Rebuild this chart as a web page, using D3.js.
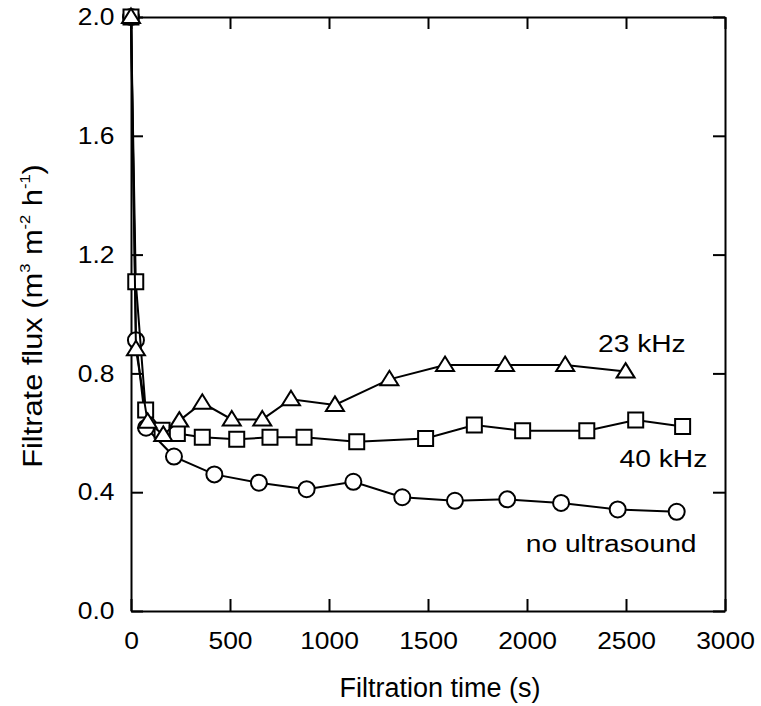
<!DOCTYPE html>
<html lang="en">
<head>
  <meta charset="UTF-8">
  <title>Filtrate flux vs filtration time</title>
  <script src="https://d3js.org/d3.v7.min.js"></script>
  <style>
    body { margin: 0; background: #fff; }
    svg { display: block; font-family: "Liberation Sans", Arial, sans-serif; }
    .tick text { font-size: 24px; fill: #000; }
    .axis-label { font-size: 27px; }
    .y-title { font-size: 28px; }
    .series-label { font-size: 24.5px; }
  </style>
</head>
<body>
  <svg width="761" height="706"></svg>
  <script>
    // filtration time (s) and flux (m3 m-2 h-1)
    const noUsTime = [0, 25, 76, 217, 421, 646, 887, 1123, 1370, 1636, 1900, 2172, 2458, 2756];
    const noUsFlux = [2.0, 0.912, 0.617, 0.52, 0.46, 0.432, 0.41, 0.435, 0.383, 0.371, 0.376, 0.364, 0.342, 0.334];

    const k40Time = [0, 24, 74, 157, 234, 360, 534, 702, 874, 1140, 1488, 1734, 1978, 2302, 2549, 2786];
    const k40Flux = [2.0, 1.109, 0.677, 0.609, 0.598, 0.585, 0.578, 0.585, 0.585, 0.57, 0.581, 0.626, 0.607, 0.607, 0.643, 0.621];

    const k23Time = [0, 25, 84, 163, 244, 360, 509, 663, 808, 1030, 1305, 1586, 1889, 2193, 2498];
    const k23Flux = [2.0, 0.881, 0.637, 0.593, 0.641, 0.701, 0.645, 0.645, 0.713, 0.694, 0.78, 0.828, 0.828, 0.828, 0.806];

    const xTicks = [0, 500, 1000, 1500, 2000, 2500, 3000];
    const yTicks = [0.0, 0.4, 0.8, 1.2, 1.6, 2.0];

    const margin = { top: 17, right: 36, bottom: 95, left: 131 };
    const width = 761;
    const height = 706;
    const tick = 12;
    const stretch = 1.1;

    const svg = d3.select("svg");

    const x = d3.scaleLinear().domain([0, 3000]).range([margin.left, width - margin.right]);
    const y = d3.scaleLinear().domain([0, 2]).range([height - margin.bottom, margin.top]);

    function styleAxis(g) {
      g.select(".domain").attr("stroke", "#000").attr("stroke-width", 2);
      g.selectAll(".tick line").attr("stroke", "#000").attr("stroke-width", 2);
    }

    // bottom axis with labels, ticks pointing inward
    svg.append("g")
      .attr("transform", `translate(0,${height - margin.bottom})`)
      .call(d3.axisBottom(x).tickValues(xTicks).tickSizeInner(-tick).tickSizeOuter(0)
        .tickPadding(21).tickFormat(d3.format("d")))
      .call(styleAxis)
      .call(g => g.selectAll(".tick text").attr("transform", `scale(${stretch},1)`));

    // top axis, ticks only
    svg.append("g")
      .attr("transform", `translate(0,${margin.top})`)
      .call(d3.axisTop(x).tickValues(xTicks).tickSizeInner(-tick).tickSizeOuter(0).tickFormat(""))
      .call(styleAxis);

    // left axis with labels
    svg.append("g")
      .attr("transform", `translate(${margin.left},0)`)
      .call(d3.axisLeft(y).tickValues(yTicks).tickSizeInner(-tick).tickSizeOuter(0)
        .tickPadding(15).tickFormat(d3.format(".1f")))
      .call(styleAxis)
      .call(g => g.selectAll(".tick text").attr("transform", `scale(${stretch},1)`));

    // right axis, ticks only
    svg.append("g")
      .attr("transform", `translate(${width - margin.right},0)`)
      .call(d3.axisRight(y).tickValues(yTicks).tickSizeInner(-tick).tickSizeOuter(0).tickFormat(""))
      .call(styleAxis);

    const line = d3.line().x(d => x(d[0])).y(d => y(d[1]));

    function drawSeries(times, flux, shape) {
      const pts = times.map((t, i) => [t, flux[i]]);
      svg.append("path")
        .datum(pts)
        .attr("fill", "none")
        .attr("stroke", "#000")
        .attr("stroke-width", 2)
        .attr("d", line);

      svg.append("g").selectAll("path")
        .data(pts)
        .enter().append("path")
        .attr("transform", d => `translate(${x(d[0])},${y(d[1])})`)
        .attr("d", shape)
        .attr("fill", "#fff")
        .attr("stroke", "#000")
        .attr("stroke-width", 2);
    }

    const circleShape = d3.symbol().type(d3.symbolCircle).size(Math.PI * 8 * 8)();
    const squareShape = "M-7.5,-7.5H7.5V7.5H-7.5Z";
    const triangleShape = "M0,-8.5L9,6L-9,6Z";

    drawSeries(noUsTime, noUsFlux, circleShape);
    drawSeries(k40Time, k40Flux, squareShape);
    drawSeries(k23Time, k23Flux, triangleShape);

    function stretchedText(tx, ty, txt, cls, k) {
      svg.append("text")
        .attr("class", cls)
        .attr("transform", `translate(${tx},${ty}) scale(${k},1)`)
        .attr("text-anchor", "middle")
        .text(txt);
    }

    stretchedText(x(2580), 352, "23 kHz", "series-label", 1.15);
    stretchedText(x(2689), 467, "40 kHz", "series-label", 1.15);
    stretchedText(x(2425), 552, "no ultrasound", "series-label", 1.15);

    stretchedText((margin.left + width - margin.right) / 2 + 12, 697, "Filtration time (s)", "axis-label", 1);

    // y axis title with superscripts
    const yTitle = svg.append("text")
      .attr("class", "y-title")
      .attr("transform", "translate(42,316) rotate(-90) scale(1.1,1)")
      .attr("text-anchor", "middle");
    const parts = [["Filtrate flux (m", false], ["3", true], [" m", false], ["-2", true], [" h", false], ["-1", true], [")", false]];
    parts.forEach(([t, sup], i) => {
      const ts = yTitle.append("tspan").text(t);
      if (sup) ts.attr("font-size", "15px").attr("dy", -12);
      else if (i > 0) ts.attr("dy", 12);
    });
  </script>
</body>
</html>
